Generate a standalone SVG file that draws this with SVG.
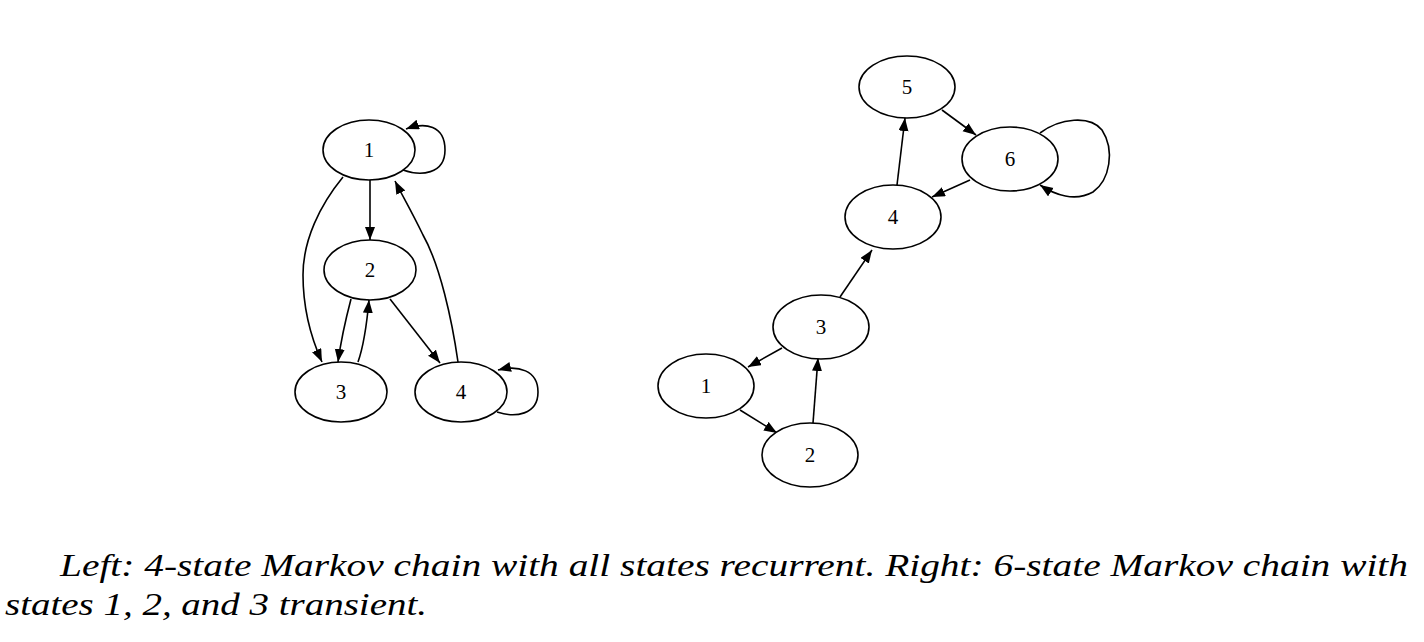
<svg xmlns="http://www.w3.org/2000/svg" width="1424" height="642" viewBox="0 0 1424 642">
<style>
.node ellipse{fill:#fff;stroke:#000;stroke-width:1.6}
.node text{font-family:"Liberation Serif","DejaVu Serif",serif;font-size:21px;text-anchor:middle;fill:#000}
.edges path{fill:none;stroke:#000;stroke-width:1.6;marker-end:url(#arr)}
.cap{font-family:"Liberation Serif","DejaVu Serif",serif;font-style:italic;font-size:32px;fill:#000}
</style>
<defs>
<marker id="arr" markerUnits="userSpaceOnUse" markerWidth="15" markerHeight="11" refX="13" refY="5" orient="auto">
<path d="M0,0 L13,5 L0,10 z" fill="#000"/>
</marker>
</defs>
<rect width="1424" height="642" fill="#fff"/>
<g class="edges" id="edges">
<path d="M370,180 L370,240"/>
<path d="M343,177 C320,205 303,240 303,275 C303,310 312,340 322,362"/>
<path d="M351,299 C346,318 341,340 338,362"/>
<path d="M358,362 C364,345 367,322 369,300"/>
<path d="M390,299 L440,363"/>
<path d="M458,362 C452,320 440,265 423,235 C412,212 402,195 395,181"/>
<path d="M403,170 C420,176 445,175 445,150 C445,125 425,122 406,129"/>
<path d="M497,412 C515,418 538,415 538,392 C538,370 518,365 498,370"/>
<path d="M942,110 L976,135"/>
<path d="M897,185 L905,118"/>
<path d="M970,180 L932,197"/>
<path d="M1040,133 C1060,118 1090,115 1102,130 C1115,150 1110,180 1093,192 C1075,202 1055,195 1040,185"/>
<path d="M840,297 L872,250"/>
<path d="M782,348 L748,367"/>
<path d="M740,410 L777,433"/>
<path d="M813,423 L818,358"/>
</g>
<g class="node" id="L1"><ellipse cx="369" cy="150" rx="46" ry="30"/><text x="369" y="157">1</text></g>
<g class="node" id="L2"><ellipse cx="370" cy="270" rx="46" ry="30"/><text x="370" y="277">2</text></g>
<g class="node" id="L3"><ellipse cx="341" cy="392" rx="46" ry="30"/><text x="341" y="399">3</text></g>
<g class="node" id="L4"><ellipse cx="461" cy="392" rx="46" ry="30"/><text x="461" y="399">4</text></g>
<g class="node" id="R5"><ellipse cx="907" cy="87" rx="48" ry="31"/><text x="907" y="94">5</text></g>
<g class="node" id="R6"><ellipse cx="1010" cy="159" rx="48" ry="32"/><text x="1010" y="166">6</text></g>
<g class="node" id="R4"><ellipse cx="893" cy="217" rx="48" ry="32"/><text x="893" y="224">4</text></g>
<g class="node" id="R3"><ellipse cx="821" cy="327" rx="48" ry="32"/><text x="821" y="334">3</text></g>
<g class="node" id="R1"><ellipse cx="706" cy="386" rx="48" ry="32"/><text x="706" y="393">1</text></g>
<g class="node" id="R2"><ellipse cx="810" cy="455" rx="48" ry="32"/><text x="810" y="462">2</text></g>
<text class="cap" x="60" y="576" textLength="1348" lengthAdjust="spacingAndGlyphs">Left: 4-state Markov chain with all states recurrent. Right: 6-state Markov chain with</text>
<text class="cap" x="5" y="615" textLength="422" lengthAdjust="spacingAndGlyphs">states 1, 2, and 3 transient.</text>
</svg>
